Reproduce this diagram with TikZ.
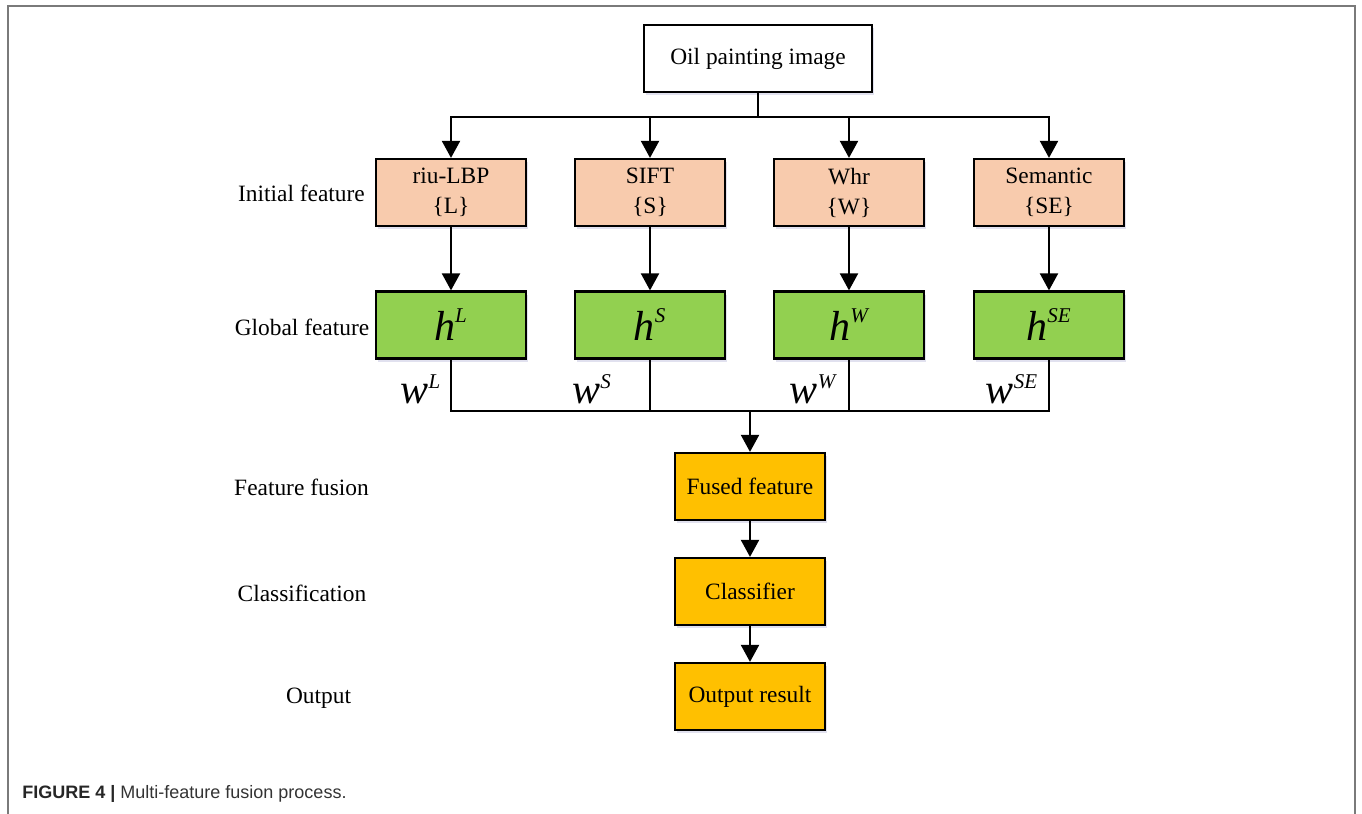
\documentclass[tikz,border=0pt]{standalone}
\usepackage{fontspec}
\setmainfont{Liberation Serif}
\newfontfamily\capfont{Liberation Sans}
\usepackage{amsmath}
\usepackage{tikz}
\usetikzlibrary{arrows.meta,shadows,calc}
\definecolor{peach}{HTML}{F8CBAD}
\definecolor{leaf}{HTML}{92D050}
\definecolor{amber}{HTML}{FFC000}
\definecolor{framegray}{HTML}{7A7A7A}
\definecolor{captext}{HTML}{333333}
\newcommand{\hw}[2]{$\textit{#1}^{\scriptscriptstyle\textit{#2}}$}

\begin{document}
\begin{tikzpicture}[x=0.5pt,y=-0.5pt,
  box/.style={draw=black,line width=1.1pt,minimum width=75pt,minimum height=33.5pt,
    align=center,font=\fontsize{11.7}{15}\selectfont,
    drop shadow={shadow xshift=1pt,shadow yshift=-1.5pt,fill=blue!30!gray,opacity=0.18}},
  initbox/.style={box,fill=peach},
  globbox/.style={box,fill=leaf,font=\fontsize{21}{24}\selectfont},
  fusebox/.style={box,fill=amber},
  rowlabel/.style={font=\fontsize{11.7}{14}\selectfont},
  wlabel/.style={font=\fontsize{21}{24}\selectfont,inner sep=0pt},
  arr/.style={line width=1pt,-{Triangle[width=9pt,length=8.5pt]}},
  line/.style={line width=1pt}]
\useasboundingbox (0,0) rectangle (1362,814);
\draw[framegray,line width=1.1pt] (8,814) -- (8,6) -- (1355,6) -- (1355,814);

\node[box,fill=white,minimum width=114pt] (img) at (758,58.5) {Oil painting image};

\node[initbox] (iL) at (451,192.5) {riu-LBP\\\{L\}};
\node[initbox] (iS) at (650,192.5) {SIFT\\\{S\}};
\node[initbox] (iW) at (849,192.5) {Whr\\\{W\}};
\node[initbox] (iSE) at (1049,192.5) {Semantic\\\{SE\}};

\node[globbox] (gL) at (451,325) {\hw{h}{L}};
\node[globbox] (gS) at (650,325) {\hw{h}{S}};
\node[globbox] (gW) at (849,325) {\hw{h}{W}};
\node[globbox] (gSE) at (1049,325) {\hw{h}{SE}};

\node[fusebox] (fused) at (750,486.5) {Fused feature};
\node[fusebox] (clf) at (750,591.5) {Classifier};
\node[fusebox] (res) at (750,696.5) {Output result};

\node[rowlabel] (l1) at (301.5,193) {Initial feature};
\node[rowlabel] (l2) at (302,327) {Global feature};
\node[rowlabel] (l3) at (301.5,487) {Feature fusion};
\node[rowlabel] (l4) at (302,593) {Classification};
\node[rowlabel] (l5) at (318.5,698) {Output};

\node[wlabel] (wL) at (421,389) {\hw{w}{L}};
\node[wlabel] (wS) at (592,389) {\hw{w}{S}};
\node[wlabel] (wW) at (813,389) {\hw{w}{W}};
\node[wlabel] (wSE) at (1012,389) {\hw{w}{SE}};

\coordinate (split) at (758,117);
\coordinate (merge) at (750,411);

\foreach \n in {L,S,W,SE}{
  \draw[arr] (img.south) -- (split) -| (i\n.north);
  \draw[arr] (i\n.south) -- (g\n.north);
  \draw[line] (g\n.south) |- (merge);
}
\draw[arr] (merge) -- (fused.north);
\draw[arr] (fused.south) -- (clf.north);
\draw[arr] (clf.south) -- (res.north);

\node[anchor=base west,inner sep=0pt,text=captext,font=\capfont\fontsize{9}{11}\selectfont] (cap) at (22,798)
  {\textbf{\color{black!85}FIGURE 4 |} Multi-feature fusion process.};
\end{tikzpicture}
\end{document}
